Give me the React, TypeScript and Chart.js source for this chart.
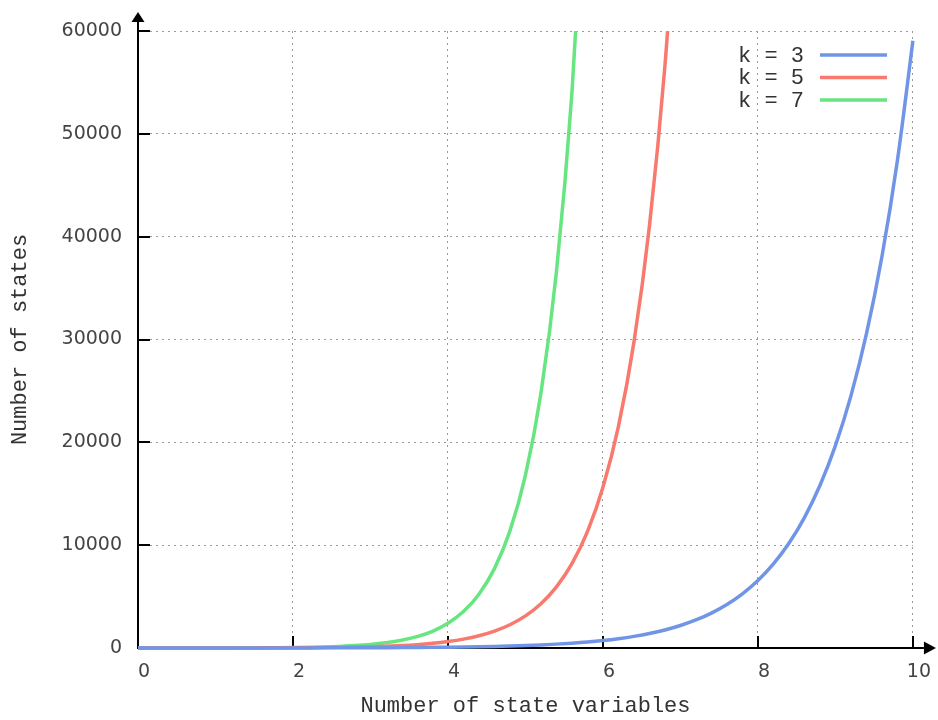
import React, { useEffect, useRef } from "react";
import { Chart, registerables } from "chart.js";

Chart.register(...registerables);

const xValues = [
  0, 0.2, 0.4, 0.6, 0.8, 1, 1.2, 1.4, 1.6, 1.8, 2, 2.2, 2.4, 2.6, 2.8, 3, 3.2, 3.4, 3.6, 3.8,
  4, 4.2, 4.4, 4.6, 4.8, 5, 5.2, 5.4, 5.6, 5.8, 6, 6.2, 6.4, 6.6, 6.8, 7, 7.2, 7.4, 7.6, 7.8,
  8, 8.2, 8.4, 8.6, 8.8, 9, 9.2, 9.4, 9.6, 9.8, 10,
];

const k3Values = [
  1, 1.25, 1.55, 1.93, 2.41, 3, 3.74, 4.66, 5.8, 7.22, 9, 11.2, 14, 17.4, 21.7, 27, 33.6, 41.9, 52.2, 65,
  81, 101, 126, 157, 195, 243, 303, 377, 470, 585, 729, 908, 1131, 1409, 1756, 2187, 2724, 3394, 4228, 5267,
  6561, 8173, 10181, 12684, 15800, 19683, 24520, 30544, 38051, 47401, 59049,
];

const k5Values = [
  1, 1.38, 1.9, 2.63, 3.62, 5, 6.9, 9.52, 13.1, 18.1, 25, 34.5, 47.6, 65.7, 90.6, 125, 172, 238, 328, 453,
  625, 862, 1190, 1642, 2265, 3125, 4312, 5949, 8208, 11325, 15625, 21558, 29745, 41039, 56623, 78125,
];

const k7Values = [
  1, 1.48, 2.18, 3.21, 4.74, 7, 10.3, 15.3, 22.5, 33.2, 49, 72.3, 107, 158, 232, 343, 506, 747, 1102, 1627,
  2401, 3543, 5229, 7717, 11389, 16807, 24804, 36604, 54019, 79721,
];

const seriesLabels = ["k = 3", "k = 5", "k = 7"];
const seriesColors = ["#7195e6", "#f8796d", "#67e581"];
const xTickStep = 2;
const yTickStep = 10000;
const xMax = 10;
const yMax = 60000;
const xTitle = "Number of state variables";
const yTitle = "Number of states";

const toPoints = (vals: number[]) => vals.map((y, i) => ({ x: xValues[i], y }));

const MONO = "'Liberation Mono', 'DejaVu Sans Mono', monospace";
const SANS = "'DejaVu Sans', sans-serif";

const axesPlugin = {
  id: "arrowAxes",
  beforeDatasetsDraw(chart: any) {
    const { ctx, chartArea, scales } = chart;
    const xs = scales.x;
    const ys = scales.y;
    const x0 = xs.getPixelForValue(0);
    const y0 = ys.getPixelForValue(0);
    ctx.save();
    ctx.strokeStyle = "#000";
    ctx.fillStyle = "#000";
    ctx.lineWidth = 2;
    ctx.beginPath();
    for (let v = xTickStep; v <= xMax; v += xTickStep) {
      const px = Math.round(xs.getPixelForValue(v));
      ctx.moveTo(px, y0);
      ctx.lineTo(px, y0 - 12);
    }
    for (let v = yTickStep; v <= yMax; v += yTickStep) {
      const py = Math.round(ys.getPixelForValue(v));
      ctx.moveTo(x0, py);
      ctx.lineTo(x0 + 12, py);
    }
    ctx.stroke();
    ctx.beginPath();
    ctx.moveTo(x0, y0 + 1);
    ctx.lineTo(x0, chartArea.top - 10);
    ctx.moveTo(x0 - 1, y0);
    ctx.lineTo(chartArea.right + 11, y0);
    ctx.stroke();
    ctx.beginPath();
    ctx.moveTo(x0, chartArea.top - 19);
    ctx.lineTo(x0 - 6.5, chartArea.top - 9);
    ctx.lineTo(x0 + 6.5, chartArea.top - 9);
    ctx.closePath();
    ctx.fill();
    ctx.beginPath();
    ctx.moveTo(chartArea.right + 23, y0);
    ctx.lineTo(chartArea.right + 11, y0 - 6.5);
    ctx.lineTo(chartArea.right + 11, y0 + 6.5);
    ctx.closePath();
    ctx.fill();
    ctx.restore();
  },
  afterDraw(chart: any) {
    const { ctx } = chart;
    ctx.save();
    ctx.font = `22px ${MONO}`;
    ctx.fillStyle = "#333";
    ctx.textBaseline = "middle";
    ctx.textAlign = "left";
    const rows = [55, 77.5, 100];
    seriesLabels.forEach((lab, i) => {
      ctx.fillText(lab, 738, rows[i] + 1);
      ctx.strokeStyle = seriesColors[i];
      ctx.lineWidth = 3.5;
      ctx.beginPath();
      ctx.moveTo(820, rows[i]);
      ctx.lineTo(887, rows[i]);
      ctx.stroke();
    });
    ctx.restore();
  },
};

export default function App() {
  const canvasRef = useRef<HTMLCanvasElement | null>(null);

  useEffect(() => {
    if (!canvasRef.current) return;
    const gridColor = (c: any) => (c.tick && c.tick.value === 0 ? "rgba(0,0,0,0)" : "#9a9a9a");
    const mk = (vals: number[], i: number) => ({
      label: seriesLabels[i],
      data: toPoints(vals),
      borderColor: seriesColors[i],
      backgroundColor: seriesColors[i],
      borderWidth: 3.5,
      pointRadius: 0,
      fill: false,
      cubicInterpolationMode: "monotone" as const,
      clip: { left: 10, top: 0, right: 10, bottom: 10 },
    });
    const chart = new Chart(canvasRef.current, {
      type: "line",
      data: {
        datasets: [mk(k3Values, 0), mk(k5Values, 1), mk(k7Values, 2)],
      },
      plugins: [axesPlugin],
      options: {
        animation: false,
        responsive: false,
        devicePixelRatio: 1,
        layout: { padding: { top: 31, right: 21, left: 0, bottom: 0 } },
        plugins: { legend: { display: false }, tooltip: { enabled: false } },
        scales: {
          x: {
            type: "linear",
            min: 0,
            max: xMax,
            afterFit: (s: any) => {
              s.height = 72;
            },
            grid: { color: gridColor, lineWidth: 1, drawTicks: false },
            border: { display: false, dash: [2, 4] },
            ticks: {
              stepSize: xTickStep,
              color: "#444",
              font: { family: SANS, size: 19 },
              padding: 13,
              labelOffset: 6,
              callback: (v: any) => String(v),
            },
            title: {
              display: true,
              text: xTitle,
              color: "#333",
              font: { family: MONO, size: 22 },
              padding: { top: 0, bottom: 1 },
            },
          },
          y: {
            type: "linear",
            min: 0,
            max: yMax,
            afterFit: (s: any) => {
              s.width = 138;
            },
            grid: { color: gridColor, lineWidth: 1, drawTicks: false },
            border: { display: false, dash: [2, 4] },
            ticks: {
              stepSize: yTickStep,
              color: "#444",
              font: { family: SANS, size: 19 },
              padding: 16,
              callback: (v: any) => String(v),
            },
            title: {
              display: true,
              text: yTitle,
              color: "#333",
              font: { family: MONO, size: 22 },
              padding: { top: 7, bottom: 0 },
            },
          },
        },
      },
    });
    return () => chart.destroy();
  }, []);

  return (
    <div style={{ position: "fixed", left: 0, top: 0, width: 938, height: 720, background: "#fff" }}>
      <canvas ref={canvasRef} width={938} height={720} style={{ width: 938, height: 720 }} />
    </div>
  );
}
